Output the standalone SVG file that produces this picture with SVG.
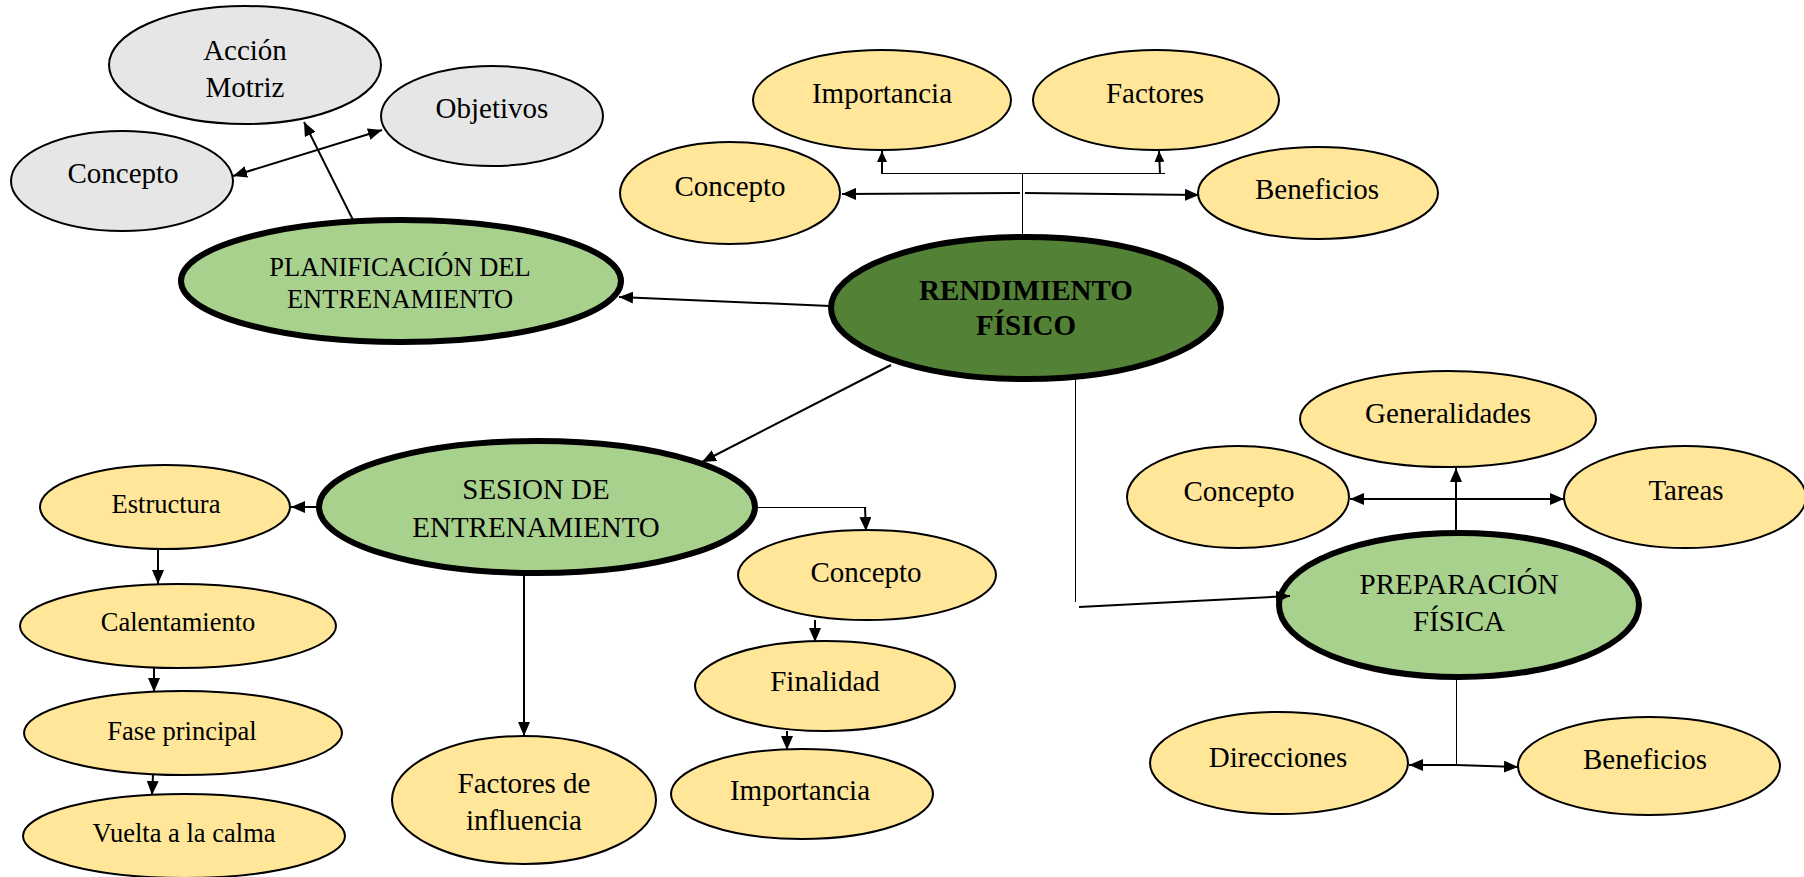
<svg xmlns="http://www.w3.org/2000/svg" width="1804" height="877" viewBox="0 0 1804 877">
<defs>
<marker id="ah" markerUnits="userSpaceOnUse" markerWidth="14" markerHeight="12" refX="14" refY="6" orient="auto-start-reverse"><path d="M0,0 L14,6 L0,12 z" fill="#000"/></marker>
<marker id="ahs" markerUnits="userSpaceOnUse" markerWidth="11" markerHeight="10" refX="11" refY="5" orient="auto-start-reverse"><path d="M0,0 L11,5 L0,10 z" fill="#000"/></marker>
</defs>
<style>
.n{stroke:#000;stroke-width:2}
.y{fill:#ffe699}
.g{fill:#e7e6e6}
.lg{fill:#a9d18e;stroke-width:6}
.dg{fill:#538135;stroke-width:6}
text{font-family:"Liberation Serif","Times New Roman",serif;font-size:29px;fill:#000;text-anchor:middle}
.s{font-size:26.5px}
.p{font-size:26.5px}
.b{font-weight:bold}
.c{stroke:#000;stroke-width:2;fill:none}
.t{stroke:#000;stroke-width:1;fill:none}
</style>
<rect width="1804" height="877" fill="#fff"/>

<g id="accion-motriz"><ellipse class="n g" cx="245" cy="65" rx="136" ry="59"/><text x="245" y="60">Acción</text><text x="245" y="97">Motriz</text></g>
<g id="objetivos"><ellipse class="n g" cx="492" cy="116" rx="111" ry="50"/><text x="492" y="118">Objetivos</text></g>
<g id="concepto-plan"><ellipse class="n g" cx="122" cy="181" rx="111" ry="50"/><text x="123" y="183">Concepto</text></g>
<g id="planificacion"><ellipse class="n lg" cx="401" cy="281" rx="220" ry="61"/><text class="p" x="400" y="276">PLANIFICACIÓN DEL</text><text class="p" x="400" y="308">ENTRENAMIENTO</text></g>

<g id="rendimiento"><ellipse class="n dg" cx="1026" cy="308" rx="195" ry="71"/><text class="b" x="1026" y="300">RENDIMIENTO</text><text class="b" x="1026" y="335">FÍSICO</text></g>
<g id="importancia-top"><ellipse class="n y" cx="882" cy="100" rx="129" ry="50"/><text x="882" y="103">Importancia</text></g>
<g id="factores"><ellipse class="n y" cx="1156" cy="100" rx="123" ry="50"/><text x="1155" y="103">Factores</text></g>
<g id="concepto-top"><ellipse class="n y" cx="730" cy="193" rx="110" ry="51"/><text x="730" y="196">Concepto</text></g>
<g id="beneficios-top"><ellipse class="n y" cx="1318" cy="193" rx="120" ry="46"/><text x="1317" y="199">Beneficios</text></g>

<g id="sesion"><ellipse class="n lg" cx="537" cy="507" rx="218" ry="66"/><text x="536" y="499">SESION DE</text><text x="536" y="537">ENTRENAMIENTO</text></g>
<g id="estructura"><ellipse class="n y" cx="165" cy="507" rx="125" ry="42"/><text class="s" x="166" y="513">Estructura</text></g>
<g id="calentamiento"><ellipse class="n y" cx="178" cy="626" rx="158" ry="42"/><text class="s" x="178" y="631">Calentamiento</text></g>
<g id="fase-principal"><ellipse class="n y" cx="183" cy="733" rx="159" ry="42"/><text class="s" x="182" y="740">Fase principal</text></g>
<g id="vuelta-calma"><ellipse class="n y" cx="184" cy="836" rx="161" ry="42"/><text class="s" x="184" y="842">Vuelta a la calma</text></g>
<g id="factores-influencia"><ellipse class="n y" cx="524" cy="800" rx="132" ry="64"/><text x="524" y="793">Factores de</text><text x="524" y="830">influencia</text></g>
<g id="concepto-sesion"><ellipse class="n y" cx="867" cy="575" rx="129" ry="45"/><text x="866" y="582">Concepto</text></g>
<g id="finalidad"><ellipse class="n y" cx="825" cy="686" rx="130" ry="45"/><text x="825" y="691">Finalidad</text></g>
<g id="importancia-sesion"><ellipse class="n y" cx="802" cy="794" rx="131" ry="45"/><text x="800" y="800">Importancia</text></g>

<g id="generalidades"><ellipse class="n y" cx="1448" cy="419" rx="148" ry="48"/><text x="1448" y="423">Generalidades</text></g>
<g id="concepto-prep"><ellipse class="n y" cx="1238" cy="497" rx="111" ry="51"/><text x="1239" y="501">Concepto</text></g>
<g id="tareas"><ellipse class="n y" cx="1685" cy="497" rx="121" ry="51"/><text x="1686" y="500">Tareas</text></g>
<g id="preparacion"><ellipse class="n lg" cx="1459" cy="605" rx="180" ry="72"/><text x="1459" y="594">PREPARACIÓN</text><text x="1459" y="631">FÍSICA</text></g>
<g id="direcciones"><ellipse class="n y" cx="1279" cy="763" rx="129" ry="51"/><text x="1278" y="767">Direcciones</text></g>
<g id="beneficios-prep"><ellipse class="n y" cx="1649" cy="766" rx="131" ry="49"/><text x="1645" y="769">Beneficios</text></g>

<g id="connectors">
<line class="c" x1="353" y1="220" x2="304" y2="122" marker-end="url(#ah)"/>
<line class="c" x1="233" y1="176" x2="382" y2="130" marker-start="url(#ah)" marker-end="url(#ah)"/>
<line class="c" x1="830" y1="306" x2="619" y2="297" marker-end="url(#ah)"/>
<line class="t" x1="1022.5" y1="236" x2="1022.5" y2="173"/>
<polyline class="t" points="882,173.5 1165,173.5"/>
<line class="c" x1="882" y1="174" x2="882" y2="151" marker-end="url(#ahs)"/>
<line class="c" x1="1160" y1="174" x2="1159" y2="151" marker-end="url(#ahs)"/>
<line class="c" x1="1020" y1="193" x2="842" y2="194" marker-end="url(#ah)"/>
<line class="c" x1="1025" y1="193" x2="1199" y2="195" marker-end="url(#ah)"/>
<line class="c" x1="891" y1="365" x2="702" y2="462" marker-end="url(#ah)"/>
<line class="c" x1="317" y1="507" x2="291" y2="507" marker-end="url(#ah)"/>
<line class="c" x1="158" y1="549" x2="158" y2="584" marker-end="url(#ah)"/>
<line class="c" x1="154" y1="668" x2="154" y2="692" marker-end="url(#ah)"/>
<line class="c" x1="153" y1="775" x2="152" y2="795" marker-end="url(#ah)"/>
<line class="c" x1="524" y1="573" x2="524" y2="736" marker-end="url(#ah)"/>
<polyline class="t" points="755,507.5 865,507.5"/>
<line class="c" x1="865" y1="507" x2="866" y2="531" marker-end="url(#ah)"/>
<line class="c" x1="815" y1="620" x2="815" y2="642" marker-end="url(#ah)"/>
<line class="c" x1="787" y1="731" x2="787" y2="750" marker-end="url(#ah)"/>
<line class="t" x1="1075.5" y1="378" x2="1075.5" y2="602"/>
<line class="c" x1="1079" y1="607" x2="1290" y2="596" marker-end="url(#ah)"/>
<line class="c" x1="1456" y1="533" x2="1456" y2="468" marker-end="url(#ah)"/>
<line class="c" x1="1350" y1="499" x2="1564" y2="499" marker-start="url(#ah)" marker-end="url(#ah)"/>
<line class="t" x1="1456.5" y1="678" x2="1456.5" y2="765"/>
<line class="c" x1="1456" y1="765" x2="1409" y2="765" marker-end="url(#ah)"/>
<line class="c" x1="1456" y1="765" x2="1518" y2="767" marker-end="url(#ah)"/>
</g>
</svg>
